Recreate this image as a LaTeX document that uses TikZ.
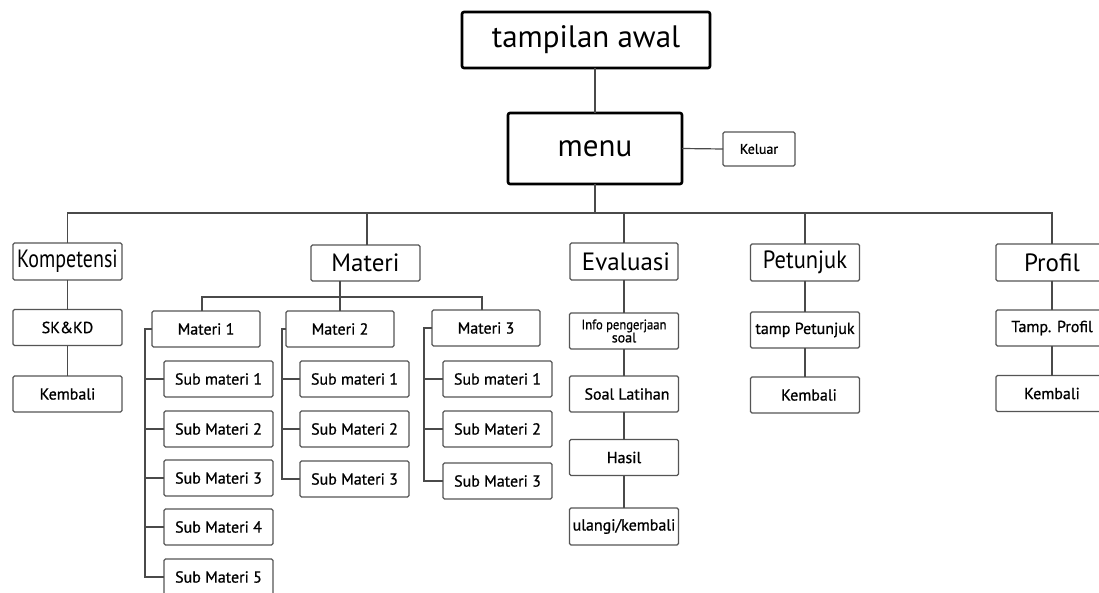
\documentclass[tikz,border=0pt]{standalone}
\usepackage{fontspec}
\setmainfont{PT Sans}
\newfontfamily\semib[FakeBold=0.8]{PT Sans}
\definecolor{ln}{HTML}{4A4A4A}
\definecolor{bx}{HTML}{555555}
\begin{document}
\begin{tikzpicture}[x=1pt,y=-1pt,
  every node/.style={inner sep=0pt, outer sep=0pt},
  bigbox/.style={draw=black, line width=2.6pt, rounded corners=2pt, fill=white, font=\fontsize{31}{33}\selectfont},
  topbox/.style={draw=bx, line width=1.3pt, rounded corners=1.5pt, fill=white, minimum height=37pt, font=\fontsize{25}{27}\selectfont},
  smallbox/.style={draw=bx, line width=1.3pt, rounded corners=1.5pt, fill=white, minimum width=109pt, minimum height=36pt, font=\semib\fontsize{16}{18}\selectfont},
  conn/.style={draw=ln, line width=1.2pt}
]
\useasboundingbox (0,0) rectangle (1099,593);
\fill[white] (0,0) rectangle (1099,593);

% top
\node[bigbox, minimum width=248pt, minimum height=56pt] (awal) at (586,40) {tampilan awal};
\node[bigbox, minimum width=174pt, minimum height=71pt] (menu) at (595,148.5) {menu};
\node[smallbox, minimum width=72pt, minimum height=34pt, font=\semib\fontsize{14}{16}\selectfont] (keluar) at (759,149) {Keluar};

% level 1
\node[topbox, minimum width=109pt] (komp) at (67.5,261.5) {\scalebox{0.8}[1]{Kompetensi}};
\node[topbox, minimum width=109pt, minimum height=36pt] (mat) at (365.5,263) {Materi};
\node[topbox, minimum width=108pt] (eval) at (624,261.5) {\hspace*{4pt}Evaluasi};
\node[topbox, minimum width=109pt] (pet) at (805,262.5) {\scalebox{0.9}[1]{Petunjuk}};
\node[topbox, minimum width=112pt] (prof) at (1052,262.5) {Profil};

\coordinate (bus) at (595,213);
\draw[conn] (awal.south -| menu.north) -- (menu.north);
\draw[conn] (menu.east) -- (keluar.west);
\draw[conn] (menu.south) -- (bus);
\draw[conn] (komp.north) -- (komp.north |- bus) -- (prof.north |- bus) -- (prof.north);
\draw[conn] (mat.north |- bus) ++(1.5,0) -- ([xshift=1.5pt]mat.north);
\draw[conn] (eval.north |- bus) -- (eval.north);
\draw[conn] (pet.north |- bus) -- (pet.north);

% Kompetensi
\node[smallbox] (skkd) at (67.5,327.5) {SK\&KD};
\node[smallbox] (kk) at (67.5,394) {Kembali};
\draw[conn] (komp.south) -- (skkd.north);
\draw[conn] (skkd.south) -- (kk.north);

% Materi
\node[smallbox, minimum width=108pt] (m1) at (206,329) {Materi 1};
\node[smallbox, minimum width=108pt] (m2) at (340,329) {Materi 2};
\node[smallbox, minimum width=108pt] (m3) at (486,328) {Materi 3};
\coordinate (mbus) at (340,297);
\draw[conn] ([xshift=-4pt]m1.north) -- ([xshift=-4pt]m1.north |- mbus) -- ([xshift=-4pt]m3.north |- mbus) -- ([xshift=-4pt]m3.north);
\draw[conn] (m2.north |- mat.south) -- (m2.north);

% Materi 1 subs
\node[smallbox] (a1) at (218.5,379) {Sub materi 1};
\node[smallbox] (a2) at (218.5,429) {Sub Materi 2};
\node[smallbox] (a3) at (218.5,478) {Sub Materi 3};
\node[smallbox] (a4) at (218.5,527) {Sub Materi 4};
\node[smallbox] (a5) at (218.5,577) {Sub Materi 5};
\coordinate (ba) at (145,329);
\draw[conn] (m1.west) -- (ba) |- (a5.west);
\foreach \n in {a1,a2,a3,a4} \draw[conn] (\n.west) -- (\n.west -| ba);

% Materi 2 subs
\node[smallbox] (b1) at (354.5,379) {Sub materi 1};
\node[smallbox] (b2) at (354.5,429) {Sub Materi 2};
\node[smallbox] (b3) at (354.5,479) {Sub Materi 3};
\coordinate (bb) at (282,329);
\draw[conn] (m2.west) -- (bb) |- (b3.west);
\foreach \n in {b1,b2} \draw[conn] (\n.west) -- (\n.west -| bb);

% Materi 3 subs
\node[smallbox] (c1) at (497.5,379) {Sub materi 1};
\node[smallbox] (c2) at (497.5,429) {Sub Materi 2};
\node[smallbox] (c3) at (497.5,481) {Sub Materi 3};
\coordinate (bc) at (424,328);
\draw[conn] (m3.west) -- (bc) |- (c3.west);
\foreach \n in {c1,c2} \draw[conn] (\n.west) -- (\n.west -| bc);

% Evaluasi
\node[smallbox, align=center, font=\semib\fontsize{14}{13}\selectfont] (e1) at (624,331) {\scalebox{0.9}[1]{Info pengerjaan}\\soal};
\node[smallbox] (e2) at (624,394) {\hspace*{6pt}Soal Latihan};
\node[smallbox] (e3) at (624,457.5) {Hasil};
\node[smallbox, minimum height=37pt] (e4) at (624,526.5) {ulangi/kembali};
\draw[conn] (eval.south) -- (e1.north);
\draw[conn] (e1.south) -- (e2.north);
\draw[conn] (e2.south) -- (e3.north);
\draw[conn] (e3.south) -- (e4.north);

% Petunjuk
\node[smallbox] (p1) at (805,330) {tamp Petunjuk};
\node[smallbox] (p2) at (805,395) {\hspace*{8pt}Kembali};
\draw[conn] (pet.south) -- (p1.north);
\draw[conn] (p1.south) -- (p2.north);

% Profil
\node[smallbox, minimum width=112pt] (q1) at (1052,328) {Tamp. Profil};
\node[smallbox, minimum width=112pt] (q2) at (1052,393.5) {Kembali};
\draw[conn] (prof.south) -- (q1.north);
\draw[conn] (q1.south) -- (q2.north);
\end{tikzpicture}
\end{document}
